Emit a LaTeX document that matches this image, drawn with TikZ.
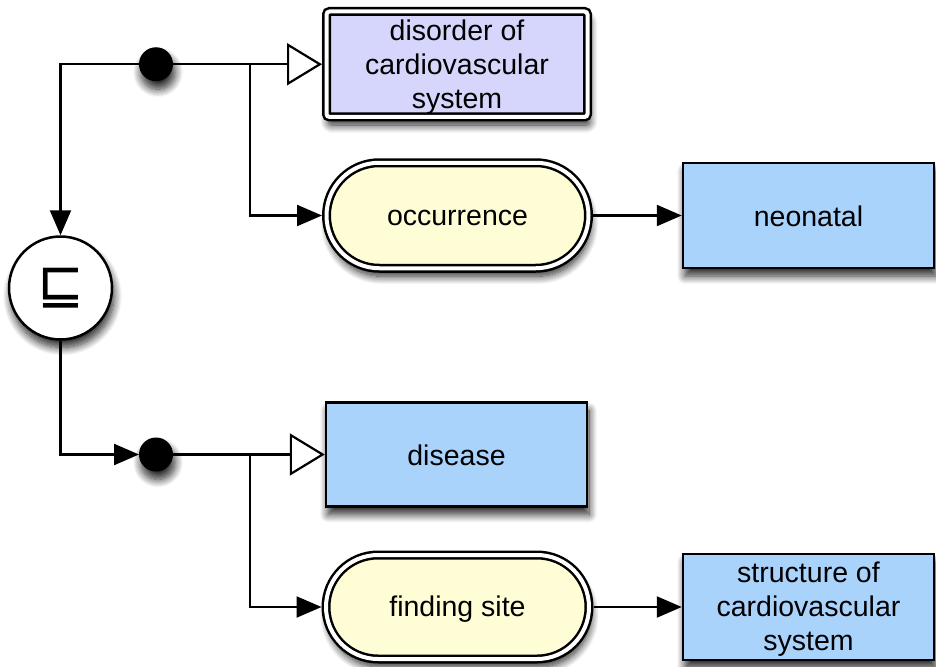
\documentclass[tikz,border=0pt]{standalone}
\usepackage{fontspec}
\setmainfont{Liberation Sans}
\newfontfamily\symfont{DejaVu Sans}
\usetikzlibrary{arrows.meta,shapes.misc,shadows.blur}
\definecolor{lav}{RGB}{214,214,252}
\definecolor{lblue}{RGB}{170,211,252}
\definecolor{lyel}{RGB}{255,253,214}
\newcommand{\lowr}[2]{\raisebox{-#1}[\height][\depth]{#2}}
\begin{document}
\begin{tikzpicture}[x=1pt,y=-1pt,
  font=\fontsize{28.5}{34}\selectfont,
  shad/.style={blur shadow={shadow xshift=2pt,shadow yshift=-8pt,shadow blur steps=12,shadow blur radius=8pt,shadow opacity=85}},
  dbox/.style={draw=black,double=white,double distance=4pt,line width=2.5pt,outer sep=4.5pt,inner sep=0pt,align=center,shad},
  sbox/.style={draw=black,line width=2.5pt,outer sep=1.25pt,inner sep=0pt,align=center,shad,fill=lblue},
  pill/.style={dbox,rounded rectangle,fill=lyel},
  blob/.style={circle,fill=black,minimum size=34pt,inner sep=0pt,outer sep=0pt,shad},
  conn/.style={line width=2.2pt},
  farrow/.style={conn,-{Triangle[length=25pt,width=21pt]}},
  oarrow/.style={conn,-{Triangle[open,length=35pt,width=42pt,fill=white]}}
]
\useasboundingbox (0,0) rectangle (936,666);

% nodes
\node[dbox,fill=lav,rounded corners=3pt,minimum width=261pt,minimum height=105.5pt] (dis) at (457,64.25) {\lowr{3pt}{\begin{tabular}{@{}c@{}}disorder of\\cardiovascular\\system\end{tabular}}};
\node[pill,minimum width=262pt,minimum height=105.5pt] (occ) at (457.5,215.5) {\lowr{2.5pt}{occurrence}};
\node[sbox,minimum width=251pt,minimum height=105pt] (neo) at (808.5,215.5) {\lowr{1pt}{neonatal}};
\node[sbox,minimum width=261pt,minimum height=104pt] (dise) at (456.5,454.5) {\lowr{1pt}{disease}};
\node[pill,minimum width=263pt,minimum height=104pt] (find) at (457.5,607) {\lowr{2pt}{finding site}};
\node[sbox,minimum width=251pt,minimum height=106pt] (str) at (808.5,607) {\lowr{3pt}{\begin{tabular}{@{}c@{}}structure of\\cardiovascular\\system\end{tabular}}};

\node[circle,draw=black,line width=2.5pt,fill=white,minimum size=103pt,inner sep=0pt,outer sep=1.25pt,shad] (circ) at (60.5,288) {\fontsize{56}{56}\selectfont\symfont ⊑};

\node[blob] (dot1) at (156,64.25) {};
\node[blob] (dot2) at (156,454.5) {};

\coordinate (b1) at (250,64.25);
\coordinate (b2) at (250,454.5);

% connectors
\draw[farrow] (dot1.west) -| (circ.north);
\draw[oarrow] (dot1.east) -- (dis.west);
\draw[farrow] (b1) |- (occ.west);
\draw[farrow] (occ.east) -- (neo.west);
\draw[farrow] (circ.south) |- (dot2.west);
\draw[oarrow] (dot2.east) -- (dise.west);
\draw[farrow] (b2) |- (find.west);
\draw[farrow] (find.east) -- (str.west);
\end{tikzpicture}
\end{document}
